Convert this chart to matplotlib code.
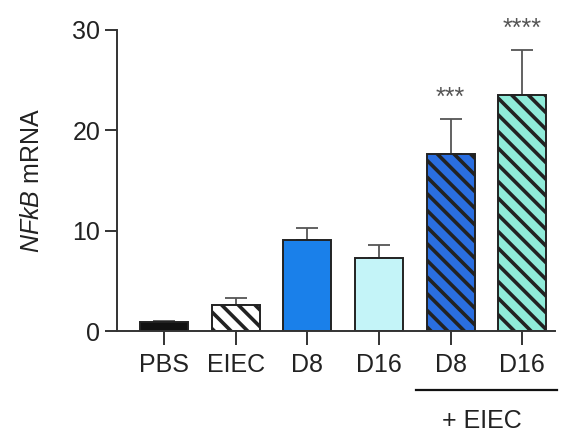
import matplotlib
matplotlib.use('Agg')
import matplotlib.pyplot as plt
import numpy as np

groups = ["PBS", "EIEC", "D8", "D16", "D8", "D16"]
means = [0.9, 2.6, 9.1, 7.3, 17.6, 23.5]
errs = [0.15, 0.7, 1.2, 1.3, 3.5, 4.5]
colors = ["#111111", "#ffffff", "#1a80ea", "#c4f4f8", "#2a6ee0", "#90ebd9"]
hatches = ["", "\\\\", "", "", "\\\\", "\\\\"]
stars = ["", "", "", "", "***", "****"]

plt.rcParams['font.family'] = ['Liberation Sans', 'DejaVu Sans']
plt.rcParams['mathtext.fontset'] = 'custom'
plt.rcParams['mathtext.rm'] = 'Liberation Sans'
plt.rcParams['mathtext.it'] = 'Liberation Sans:italic'
plt.rcParams['hatch.linewidth'] = 2.6
plt.rcParams['hatch.color'] = '#111111'

fig = plt.figure(figsize=(5.7, 4.34), dpi=100)
ax = fig.add_axes([0.205, 0.237, 0.769, 0.694])

x = np.arange(len(groups))
ax.errorbar(x, means, yerr=[np.zeros(len(errs)), errs], fmt='none',
            ecolor='#555555', elinewidth=1.3, capsize=8, capthick=1.3, zorder=1)
bars = ax.bar(x, means, width=0.67, color=colors, edgecolor='#222222',
              linewidth=1.4, zorder=2)
for b, h in zip(bars, hatches):
    b.set_hatch(h)

for xi, m, e, s in zip(x, means, errs, stars):
    if s:
        ax.text(xi, m + e + 1.4, s, ha='center', va='baseline', fontsize=18,
                color='#555555', clip_on=False)

ax.set_xlim(-0.66, 5.46)
ax.set_ylim(0, 30)
ax.set_yticks([0, 10, 20, 30])
ax.set_xticks(x)
ax.set_xticklabels(groups)
ax.tick_params(axis='both', labelsize=18, colors='#333333', labelcolor='#222222', width=1.4)
ax.tick_params(axis='x', length=10, pad=6)
ax.tick_params(axis='y', length=9, pad=3)
for sp in ['top', 'right']:
    ax.spines[sp].set_visible(False)
for sp in ['left', 'bottom']:
    ax.spines[sp].set_linewidth(1.4)
    ax.spines[sp].set_color('#333333')

ax.set_ylabel(r"$\it{NFkB}$ mRNA", fontsize=18, labelpad=20, color='#222222')

# + EIEC group bracket
ax.plot([3.51, 5.49], [-5.9, -5.9], color='#111111', lw=1.6, clip_on=False)
ax.text(4.44, -10.1, "+ EIEC", ha='center', va='bottom', fontsize=18,
        color='#222222', clip_on=False)

plt.savefig("out.png", dpi=100)
